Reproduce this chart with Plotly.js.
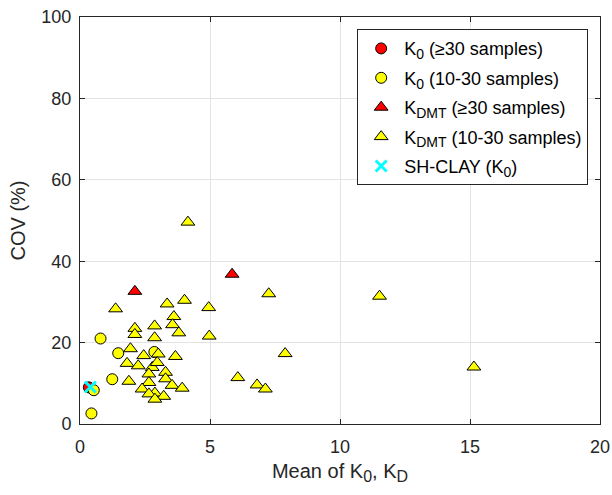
<!DOCTYPE html>
<html>
<head>
<meta charset="utf-8">
<script src="https://cdn.plot.ly/plotly-3.0.1.min.js"></script>
<style>html,body{margin:0;padding:0;background:#fff;}#chart{width:612px;height:495px;}</style>
</head>
<body>
<div id="chart"></div>
<script>
// K0, >=30 samples
var k0BigX = [0.34];
var k0BigY = [9.0];
// K0, 10-30 samples
var k0SmallX = [0.79, 1.47, 1.24, 0.53, 0.44, 2.86];
var k0SmallY = [21.0, 17.4, 11.0, 8.3, 2.6, 17.7];
// KDMT, >=30 samples
var kdBigX = [2.11, 5.85];
var kdBigY = [32.6, 36.8];
// KDMT, 10-30 samples
var kdSmallX = [4.15, 7.26, 11.52, 15.15, 1.37, 3.35, 4.02, 4.95, 3.61, 3.56, 2.11, 2.11, 2.87, 2.87, 3.80, 4.97, 7.89, 3.67, 1.94, 2.45, 3.01, 1.81, 2.24, 2.78, 2.97, 3.29, 2.65, 1.88, 2.65, 3.29, 3.54, 3.93, 2.39, 2.88, 2.65, 3.22, 2.88, 6.07, 6.81, 7.13];
var kdSmallY = [49.6, 32.0, 31.4, 14.0, 28.3, 29.5, 30.4, 28.6, 26.4, 24.4, 23.5, 22.0, 24.1, 21.2, 22.4, 21.6, 17.3, 16.6, 18.5, 16.8, 17.2, 14.9, 14.3, 13.9, 15.1, 12.7, 12.3, 10.5, 10.2, 11.1, 9.5, 8.8, 8.6, 7.6, 7.4, 6.8, 6.1, 11.4, 9.6, 8.6];
// SH-CLAY (K0)
var shX = [0.40];
var shY = [9.1];

function sub(t) { return '<sub><span style="font-size:14px">' + t + '</span></sub>'; }
var legendNames = [
  'K' + sub('0') + ' (\u226530 samples)',
  'K' + sub('0') + ' (10-30 samples)',
  'K' + sub('DMT') + ' (\u226530 samples)',
  'K' + sub('DMT') + ' (10-30 samples)',
  'SH-CLAY (K' + sub('0') + ')'
];

var FONT = 'Liberation Sans, Arial, sans-serif';
var line = {color: '#000', width: 1};
var traces = [
  {x: k0BigX, y: k0BigY, name: legendNames[0], legendgroup: 'a', mode: 'markers', type: 'scatter',
   marker: {symbol: 'circle', size: 11, color: '#ff0000', line: line}},
  {x: k0SmallX, y: k0SmallY, name: legendNames[1], legendgroup: 'b', mode: 'markers', type: 'scatter',
   marker: {symbol: 'circle', size: 11, color: '#ffff00', line: line}},
  {x: kdBigX, y: kdBigY, name: legendNames[2], legendgroup: 'c', mode: 'markers', type: 'scatter',
   marker: {symbol: 'triangle-up', size: 12, color: '#ff0000', line: line}},
  {x: kdSmallX, y: kdSmallY, name: legendNames[3], legendgroup: 'd', mode: 'markers', type: 'scatter',
   marker: {symbol: 'triangle-up', size: 12, color: '#ffff00', line: line}},
  {x: shX, y: shY, name: legendNames[4], legendgroup: 'e', mode: 'markers', type: 'scatter',
   marker: {symbol: 'x-thin', size: 11, color: '#00ffff', line: {color: '#00ffff', width: 3}}}
];

var axisCommon = {
  showline: true, linecolor: '#262626', linewidth: 1, mirror: 'ticks',
  ticks: 'inside', ticklen: 5, tickcolor: '#262626',
  showgrid: true, gridcolor: '#e3e3e3', gridwidth: 1,
  zeroline: false,
  tickfont: {family: FONT, size: 18, color: '#262626'}
};

var layout = {
  width: 612, height: 495,
  margin: {l: 79.5, r: 12, t: 17, b: 71},
  paper_bgcolor: '#fff', plot_bgcolor: '#fff',
  showlegend: true,
  xaxis: Object.assign({}, axisCommon, {
    range: [0, 20], tickvals: [0, 5, 10, 15, 20],
    ticklabelstandoff: 6,
    title: {text: 'Mean of K' + '<sub><span style="font-size:16px">0</span></sub>' + ', K' + '<sub><span style="font-size:16px">D</span></sub>', standoff: 8,
            font: {family: FONT, size: 20, color: '#262626'}}
  }),
  yaxis: Object.assign({}, axisCommon, {
    range: [0, 100], tickvals: [0, 20, 40, 60, 80, 100],
    ticklabelstandoff: 4,
    title: {text: 'COV (%)', standoff: 10,
            font: {family: FONT, size: 20, color: '#262626'}}
  }),
  legend: {
    x: 0.533, y: 0.97, xanchor: 'left', yanchor: 'top',
    bgcolor: '#fff', bordercolor: '#262626', borderwidth: 1,
    traceorder: 'grouped', tracegroupgap: 3, itemwidth: 36,
    font: {family: FONT, size: 18, color: '#000'}
  }
};

Plotly.newPlot('chart', traces, layout, {displayModeBar: false, staticPlot: true});
</script>
</body>
</html>
